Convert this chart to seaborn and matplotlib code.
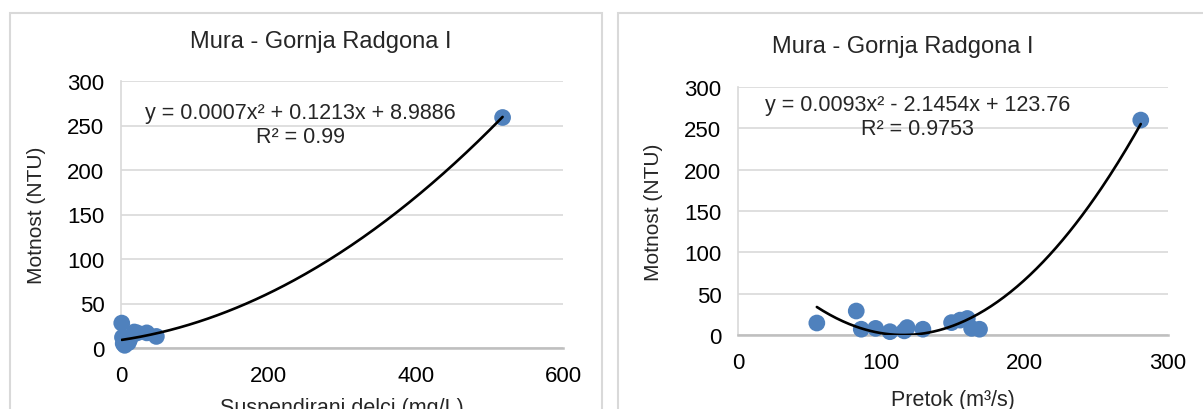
import numpy as np
import pandas as pd
import matplotlib
matplotlib.use("Agg")
import matplotlib.pyplot as plt
from matplotlib.patches import Rectangle
import seaborn as sns

# Suspended solids (mg/L) vs turbidity (NTU)
ss_x = [1, 2, 3, 5, 8, 10, 12, 18, 22, 35, 48, 518]
ss_y = [28, 12, 5, 3, 8, 6, 10, 18, 17, 17, 13, 259]
ss_coef = [0.0007, 0.1213, 8.9886]
ss_eq = "y = 0.0007x² + 0.1213x + 8.9886\nR² = 0.99"

# Discharge (m3/s) vs turbidity (NTU)
q_x = [55, 82.5, 86, 96, 106, 116, 118, 129, 149, 155, 160, 163, 168.5, 281]
q_y = [14.5, 29, 7, 8, 4, 5, 9, 7, 15, 18, 20, 8, 7, 260]
q_coef = [0.0093, -2.1454, 123.76]
q_eq = "y = 0.0093x² - 2.1454x + 123.76\nR² = 0.9753"

title = "Mura - Gornja Radgona I"
ylabel = "Motnost (NTU)"
xlabel_left = "Suspendirani delci (mg/L)"
xlabel_right = "Pretok (m³/s)"
yticks = [0, 50, 100, 150, 200, 250, 300]
xticks_left = [0, 200, 400, 600]
xticks_right = [0, 100, 200, 300]

sns.set_theme(style="white")
plt.rcParams["font.family"] = ["Liberation Sans", "DejaVu Sans"]

W, H = 1203, 410
fig = plt.figure(figsize=(W / 100, H / 100), dpi=100)
fig.patch.set_facecolor("white")


def frac_rect(x0, x1, ytop, ybot):
    return [x0 / W, (H - ybot) / H, (x1 - x0) / W, (ybot - ytop) / H]


# chart frames
for x0, x1 in [(10, 602), (618, 1240)]:
    fig.patches.append(Rectangle((x0 / W, -0.2), (x1 - x0) / W, (H - 14) / H + 0.2,
                                 transform=fig.transFigure, fill=False,
                                 edgecolor="#D9D9D9", linewidth=1.5))

ax1 = fig.add_axes(frac_rect(121, 563, 82, 349))
ax2 = fig.add_axes(frac_rect(738, 1168, 88, 336))

blue = "#4F81BD"
panels = [
    (ax1, ss_x, ss_y, ss_coef, ss_eq, xticks_left, xlabel_left, (244, 251), 8),
    (ax2, q_x, q_y, q_coef, q_eq, xticks_right, xlabel_right, (125, 264), 12),
]

for ax, xs, ys, coef, eq, xt, xl, eqpos, xpad in panels:
    df = pd.DataFrame({"x": xs, "y": ys})
    xx = np.linspace(min(xs), max(xs), 200)
    fit = pd.DataFrame({"x": xx, "y": np.polyval(coef, xx)})
    sns.scatterplot(data=df, x="x", y="y", ax=ax, s=145, color=blue,
                    edgecolor="none", clip_on=False, zorder=3)
    sns.lineplot(data=fit, x="x", y="y", ax=ax, color="black", linewidth=1.9,
                 zorder=4)
    ax.set_xlim(xt[0], xt[-1])
    ax.set_ylim(0, 300)
    ax.set_xticks(xt)
    ax.set_yticks(yticks)
    ax.grid(axis="y", color="#D9D9D9", linewidth=1.2)
    ax.grid(axis="x", visible=False)
    ax.set_axisbelow(True)
    for s in ["top", "right"]:
        ax.spines[s].set_visible(False)
    ax.spines["left"].set_color("#D9D9D9")
    ax.spines["left"].set_linewidth(1.2)
    ax.spines["bottom"].set_color("#BFBFBF")
    ax.spines["bottom"].set_linewidth(1.8)
    ax.tick_params(axis="both", length=0, labelsize=16, colors="black")
    ax.tick_params(axis="y", pad=12)
    ax.tick_params(axis="x", pad=12)
    ax.set_ylabel(ylabel, fontsize=15, labelpad=15)
    ax.set_xlabel(xl, fontsize=15.5, labelpad=xpad)
    ax.text(eqpos[0], eqpos[1], eq, fontsize=15.5, ha="center", va="center",
            multialignment="center", linespacing=1.2, zorder=5)

fig.text(321 / W, (H - 42) / H, title, fontsize=17, ha="center", va="center")
fig.text(903 / W, (H - 47) / H, title, fontsize=17, ha="center", va="center")

fig.savefig("out.png", dpi=100, facecolor="white")
